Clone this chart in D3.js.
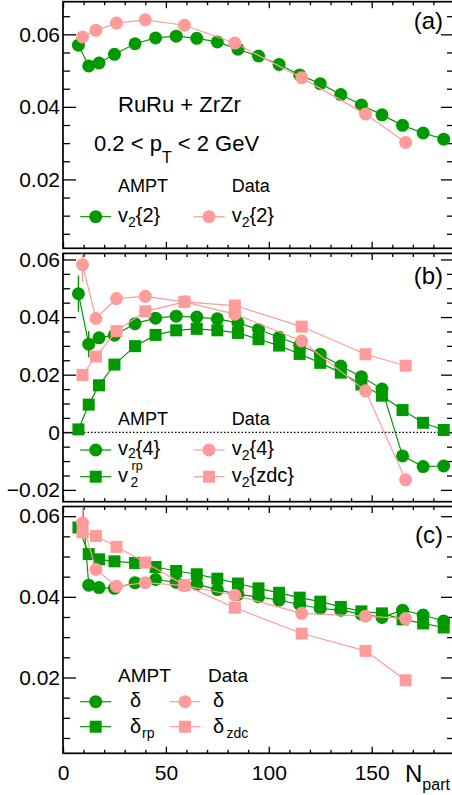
<!DOCTYPE html>
<html><head><meta charset="utf-8">
<script src="https://cdn.jsdelivr.net/npm/d3@7"></script>
<style>html,body{margin:0;padding:0;background:#fff}svg{display:block}text{font-family:"Liberation Sans",Arial,Helvetica,sans-serif}</style>
</head><body>
<svg id="c" width="452" height="795"></svg>
<script>
// ---- data ----
const amptX = [7.5,12.5,17.5,25,35,45,55,65,75,85,95,105,115,125,135,145,155,165,175,185];
const dataX = [9.5,16,26,40,59,83.5,116,147,166.5];

const v22Ampt = [0.0570,0.0513,0.0521,0.0545,0.0574,0.0590,0.0595,0.0589,0.0579,0.0559,0.0540,0.0517,0.0488,0.0464,0.0434,0.0405,0.0378,0.0349,0.0328,0.0311];
const v22Data = [0.0593,0.0611,0.0631,0.0640,0.0625,0.0576,0.0480,0.0380,0.0302];

const v24Ampt    = [0.0481,0.0306,0.0328,0.0337,0.0377,0.0396,0.0403,0.0400,0.0394,0.0380,0.0357,0.0330,0.0302,0.0271,0.0230,0.0193,0.0150,-0.0082,-0.0119,-0.0117];
const v24AmptErr = [0.0063,0.0046,0.0008,0.0006,0.0005,0.0005,0.0005,0.0005,0.0005,0.0005,0.0005,0.0005,0.0005,0.0005,0.0006,0.0007,0.0009,0.0012,0.0010,0.0010];
const v2rpAmpt   = [0.0010,0.0096,0.0163,0.0235,0.0299,0.0338,0.0354,0.0359,0.0354,0.0345,0.0323,0.0301,0.0272,0.0241,0.0207,0.0166,0.0127,0.0077,0.0033,0.0008];
const v24Data    = [0.0582,0.0395,0.0464,0.0472,0.0453,0.0410,0.0317,0.0144,-0.0165];
const v24DataErr = [0.0060,0.0012,0.0006,0.0005,0.0005,0.0005,0.0006,0.0008,0.0010];
const v2zdcData  = [0.0199,0.0263,0.0351,0.0420,0.0453,0.0440,0.0367,0.0271,0.0231];

const dAmpt     = [0.0760,0.0429,0.0423,0.0421,0.0435,0.0443,0.0436,0.0431,0.0418,0.0406,0.0400,0.0392,0.0381,0.0371,0.0367,0.0357,0.0349,0.0367,0.0355,0.0340];
const dRpAmpt   = [0.0572,0.0506,0.0493,0.0488,0.0484,0.0474,0.0464,0.0456,0.0445,0.0433,0.0421,0.0410,0.0398,0.0388,0.0375,0.0364,0.0359,0.0344,0.0334,0.0324];
const dData     = [0.0583,0.0468,0.0426,0.0435,0.0428,0.0404,0.0359,0.0352,0.0346];
const dDataErr  = [0.0040,0.0014,0.0005,0.0004,0.0004,0.0004,0.0004,0.0004,0.0004];
const dZdcData  = [0.0560,0.0551,0.0524,0.0485,0.0429,0.0373,0.0309,0.0266,0.0193];
const dZdcErr   = [0.0010,0.0008,0.0006,0.0005,0.0004,0.0004,0.0004,0.0005,0.0008];

const xTickLabels = [0,50,100,150];
const yTicksA = [0.02,0.04,0.06];
const yTicksB = [-0.02,0,0.02,0.04,0.06];
const yTicksC = [0.02,0.04,0.06];
const panelLabels = ["(a)","(b)","(c)"];

// ---- drawing ----
const GREEN = "#009a00", PINK = "#ff9b9b";
const FONT = '"Liberation Sans",Arial,Helvetica,sans-serif';
const svg = d3.select("#c");
const x = d3.scaleLinear().domain([0,190]).range([63,454]);

const panels = [
  {dom:[0.001,0.069], rng:[248.3,1.7], ticks:yTicksA, label:panelLabels[0], labelY:28.5},
  {dom:[-0.0241,0.0621], rng:[501.7,253.4], ticks:yTicksB, label:panelLabels[1], labelY:284},
  {dom:[0.0012,0.0624], rng:[753.3,506.5], ticks:yTicksC, label:panelLabels[2], labelY:543}
];
panels.forEach((p,i)=>{ p.y = d3.scaleLinear().domain(p.dom).range(p.rng); p.i=i; });

const fmt = d => d===0 ? "0" : d3.format(".2f")(d);

function frame(p){
  const g = svg.append("g");
  const y = p.y;
  const minor = d3.range(-0.03,0.0701,0.005).map(v=>+v.toFixed(3)).filter(v=>v>=p.dom[0]&&v<=p.dom[1] && !p.ticks.some(t=>Math.abs(t-v)<1e-6));
  const xMinor = d3.range(0,191,10).filter(v=>v%50!==0);
  const la = g.append("g").attr("transform",`translate(${x.range()[0]},0)`)
    .call(d3.axisLeft(y).tickValues(p.ticks).tickSize(-13).tickPadding(3).tickFormat(fmt));
  la.append("g").call(d3.axisLeft(y).tickValues(minor).tickSize(-7).tickFormat(""));
  const ra = g.append("g").attr("transform",`translate(${x.range()[1]},0)`)
    .call(d3.axisRight(y).tickValues(p.ticks).tickSize(-13).tickFormat(""));
  ra.append("g").call(d3.axisRight(y).tickValues(minor).tickSize(-7).tickFormat(""));
  const ta = g.append("g").attr("transform",`translate(0,${p.rng[1]})`)
    .call(d3.axisTop(x).tickValues(xTickLabels).tickSize(-6.5).tickFormat(""));
  ta.append("g").call(d3.axisTop(x).tickValues(xMinor).tickSize(-3.5).tickFormat(""));
  const ba = g.append("g").attr("transform",`translate(0,${p.rng[0]})`)
    .call(d3.axisBottom(x).tickValues(xTickLabels).tickSize(-6.5).tickPadding(12)
      .tickFormat(p.i===2 ? d=>String(d) : ""));
  ba.append("g").call(d3.axisBottom(x).tickValues(xMinor).tickSize(-3.5).tickFormat(""));
  g.selectAll(".domain").remove();
  g.selectAll(".tick line").attr("stroke","#000").attr("stroke-width",1.3);
  g.selectAll(".tick text").attr("font-family",FONT).attr("font-size",21).attr("fill","#000");
  g.append("rect").attr("x",x.range()[0]).attr("y",p.rng[1])
    .attr("width",x.range()[1]-x.range()[0]).attr("height",p.rng[0]-p.rng[1])
    .attr("fill","none").attr("stroke","#000").attr("stroke-width",1.7);
  svg.append("clipPath").attr("id","clip"+p.i).append("rect")
    .attr("x",x.range()[0]).attr("y",p.rng[1])
    .attr("width",x.range()[1]-x.range()[0]).attr("height",p.rng[0]-p.rng[1]);
  svg.append("text").attr("x",443).attr("y",p.labelY).attr("text-anchor","end")
    .attr("font-size",24).attr("fill","#000").text(p.label);
}

function series(p, xs, ys, errs, color, shape){
  const g = svg.append("g").attr("clip-path",`url(#clip${p.i})`);
  const y = p.y;
  g.append("path").datum(xs.map((d,i)=>[d,ys[i]]))
    .attr("d", d3.line().x(d=>x(d[0])).y(d=>y(d[1])))
    .attr("fill","none").attr("stroke",color).attr("stroke-width",1.2);
  if(errs){
    g.selectAll(null).data(xs.map((d,i)=>[d,ys[i],errs[i]])).enter().append("line")
      .attr("x1",d=>x(d[0])).attr("x2",d=>x(d[0]))
      .attr("y1",d=>y(d[1]-d[2])).attr("y2",d=>y(d[1]+d[2]))
      .attr("stroke",color).attr("stroke-width",1.4);
  }
  const pts = xs.map((d,i)=>[d,ys[i]]);
  if(shape==="circle"){
    g.selectAll(null).data(pts).enter().append("circle")
      .attr("cx",d=>x(d[0])).attr("cy",d=>y(d[1])).attr("r",6.5).attr("fill",color);
  } else {
    g.selectAll(null).data(pts).enter().append("rect")
      .attr("x",d=>x(d[0])-6).attr("y",d=>y(d[1])-6).attr("width",12).attr("height",12).attr("fill",color);
  }
}

panels.forEach(frame);

svg.append("line").attr("x1",x(0)).attr("x2",x(190)).attr("y1",panels[1].y(0)).attr("y2",panels[1].y(0))
  .attr("stroke","#000").attr("stroke-width",1.2).attr("stroke-dasharray","1.5,2");

series(panels[0], amptX, v22Ampt, null, GREEN, "circle");
series(panels[0], dataX, v22Data, null, PINK, "circle");
series(panels[1], amptX, v24Ampt, v24AmptErr, GREEN, "circle");
series(panels[1], amptX, v2rpAmpt, null, GREEN, "square");
series(panels[1], dataX, v24Data, v24DataErr, PINK, "circle");
series(panels[1], dataX, v2zdcData, null, PINK, "square");
series(panels[2], amptX, dAmpt, null, GREEN, "circle");
series(panels[2], amptX, dRpAmpt, null, GREEN, "square");
series(panels[2], dataX, dData, dDataErr, PINK, "circle");
series(panels[2], dataX, dZdcData, dZdcErr, PINK, "square");

// ---- legends & texts ----
function t(xp, yp, str, size, anchor){
  return svg.append("text").attr("x",xp).attr("y",yp).attr("font-size",size)
    .attr("text-anchor",anchor||"start").attr("fill","#000").text(str);
}
function legMarker(cx, cy, color, shape){
  svg.append("line").attr("x1",cx-15.5).attr("x2",cx+15.5).attr("y1",cy).attr("y2",cy)
    .attr("stroke",color).attr("stroke-width",1.2);
  if(shape==="circle") svg.append("circle").attr("cx",cx).attr("cy",cy).attr("r",6.5).attr("fill",color);
  else svg.append("rect").attr("x",cx-6).attr("y",cy-6).attr("width",12).attr("height",12).attr("fill",color);
}
function vsub(xp, yp, brace, dy){
  const d = dy||5;
  const el = t(xp, yp, "v", 20);
  el.append("tspan").attr("dy",d).attr("font-size",14).text("2");
  if(brace) el.append("tspan").attr("dy",-d).attr("font-size",20).text(brace);
}

t(118, 112, "RuRu + ZrZr", 22);
{
  const el = t(94, 150.7, "0.2 < p", 22);
  el.append("tspan").attr("dy",12).attr("font-size",16).text("T");
  el.append("tspan").attr("dy",-12).attr("font-size",22).text(" < 2 GeV");
}
t(118, 191.7, "AMPT", 18); t(231.7, 191.7, "Data", 18);
legMarker(95.7, 216.7, GREEN, "circle"); vsub(118, 221.7, "{2}");
legMarker(209, 216.7, PINK, "circle"); vsub(231.7, 221.7, "{2}");

t(118, 425, "AMPT", 18); t(231.7, 425, "Data", 18);
legMarker(95.7, 450, GREEN, "circle"); vsub(118, 454.5, "{4}", 3.5);
legMarker(95.7, 476.7, GREEN, "square");
t(118, 481.7, "v", 20); t(130.5, 486.5, "2", 14); t(131.5, 470, "rp", 12.5);
legMarker(209, 450, PINK, "circle"); vsub(231.7, 455, "{4}");
legMarker(209, 476.7, PINK, "square"); vsub(231.7, 481.7, "{zdc}");

t(118, 681.7, "AMPT", 19); t(208, 681.7, "Data", 19);
legMarker(95.7, 701.7, GREEN, "circle"); t(130, 706.7, "δ", 20);
legMarker(95.7, 726.7, GREEN, "square"); t(130, 733, "δ", 20); t(142, 737.5, "rp", 14);
legMarker(185, 701.7, PINK, "circle"); t(213, 706.7, "δ", 20);
legMarker(185, 726.7, PINK, "square"); t(213, 733, "δ", 20); t(226.5, 737.5, "zdc", 14);

{
  const el = t(405, 781.7, "N", 24);
  el.append("tspan").attr("dy",8).attr("font-size",16).text("part");
}
</script>
</body></html>
